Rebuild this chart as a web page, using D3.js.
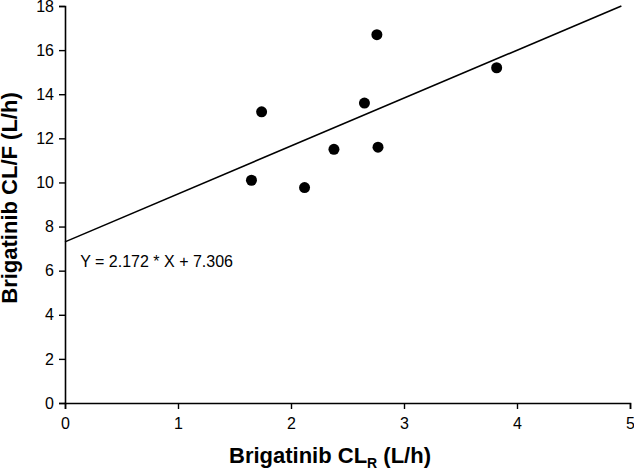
<!DOCTYPE html>
<html>
<head>
<meta charset="utf-8">
<script src="https://cdn.jsdelivr.net/npm/d3@7"></script>
<style>
  html, body { margin: 0; padding: 0; background: #fff; }
  svg text { font-family: "Liberation Sans", Arial, sans-serif; fill: #000; }
</style>
</head>
<body>
<div id="chart"></div>
<script>
// Brigatinib CL_R vs CL/F
const clR = [1.65, 1.74, 2.12, 2.38, 2.65, 2.76, 2.77, 3.82];
const clF = [10.1, 13.2, 9.77, 11.5, 13.6, 16.7, 11.6, 15.2];
const slope = 2.172;
const intercept = 7.306;
const xTicks = [0, 1, 2, 3, 4, 5];
const yTicks = [0, 2, 4, 6, 8, 10, 12, 14, 16, 18];

const width = 634, height = 472;
const margin = { top: 6, right: 4, bottom: 69, left: 65 };

const svg = d3.select('#chart').append('svg')
  .attr('width', width)
  .attr('height', height);

const x = d3.scaleLinear().domain([0, 5]).range([margin.left, width - margin.right]);
const y = d3.scaleLinear().domain([0, 18]).range([height - margin.bottom, margin.top]);

// axes
const xAxis = svg.append('g')
  .attr('transform', `translate(0,${y(0)})`)
  .call(d3.axisBottom(x).tickValues(xTicks).tickFormat(d3.format('d')).tickSizeOuter(0).tickSize(6).tickPadding(9));

const yAxis = svg.append('g')
  .attr('transform', `translate(${x(0)},0)`)
  .call(d3.axisLeft(y).tickValues(yTicks).tickFormat(d3.format('d')).tickSizeOuter(0).tickSize(6).tickPadding(5));

[xAxis, yAxis].forEach(a => {
  a.select('.domain').attr('stroke', '#000').attr('stroke-width', 1.6);
  a.selectAll('.tick line').attr('stroke', '#000').attr('stroke-width', 1.4);
  a.selectAll('.tick text')
    .attr('font-size', '16px')
    .attr('font-family', '"Liberation Sans", Arial, sans-serif')
    .attr('fill', '#000');
});

// regression line, clipped at the top of the plot
const xEnd = Math.min(5, (18 - intercept) / slope);
svg.append('line')
  .attr('x1', x(0))
  .attr('y1', y(intercept))
  .attr('x2', x(xEnd))
  .attr('y2', y(intercept + slope * xEnd))
  .attr('stroke', '#000')
  .attr('stroke-width', 1.6);

// points
svg.append('g')
  .selectAll('circle')
  .data(clR.map((d, i) => [d, clF[i]]))
  .enter()
  .append('circle')
  .attr('cx', d => x(d[0]))
  .attr('cy', d => y(d[1]))
  .attr('r', 5.5)
  .attr('fill', '#000');

// equation
svg.append('text')
  .attr('x', x(0.135))
  .attr('y', y(6.15))
  .attr('font-size', '16px')
  .text(`Y = ${slope} * X + ${intercept}`);

// x title with subscript
const xt = svg.append('text')
  .attr('x', 330)
  .attr('y', 463)
  .attr('text-anchor', 'middle')
  .attr('font-size', '22px')
  .attr('font-weight', 'bold');
xt.append('tspan').text('Brigatinib CL');
xt.append('tspan').attr('font-size', '14px').attr('dy', 5).text('R');
xt.append('tspan').attr('dy', -5).text(' (L/h)');

// y title
svg.append('text')
  .attr('transform', 'translate(17,198) rotate(-90)')
  .attr('text-anchor', 'middle')
  .attr('font-size', '22px')
  .attr('font-weight', 'bold')
  .text('Brigatinib CL/F (L/h)');
</script>
</body>
</html>
